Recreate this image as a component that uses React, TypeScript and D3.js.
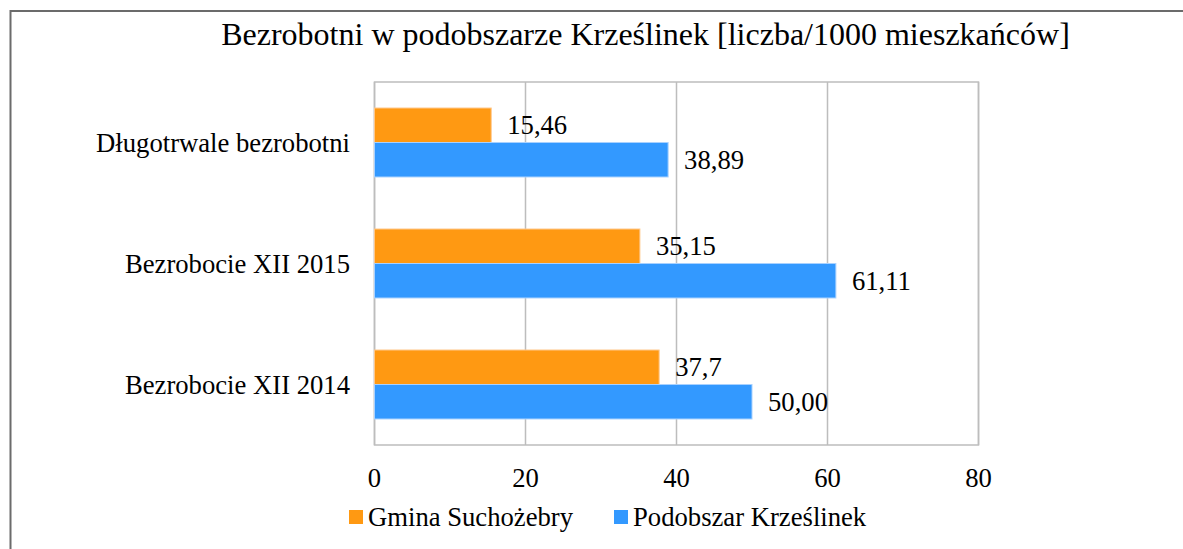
import React from "react";
import * as d3 from "d3";

const categories = ["Długotrwale bezrobotni", "Bezrobocie XII 2015", "Bezrobocie XII 2014"];
const seriesNames = ["Gmina Suchożebry", "Podobszar Krześlinek"];
const gminaValues = [15.46, 35.15, 37.7];
const podobszarValues = [38.89, 61.11, 50.0];
const gminaLabels = ["15,46", "35,15", "37,7"];
const podobszarLabels = ["38,89", "61,11", "50,00"];
const xTicks = [0, 20, 40, 60, 80];
const title = "Bezrobotni w podobszarze Krześlinek [liczba/1000 mieszkańców]";

const W = 1183;
const H = 549;
const FONT = "'Liberation Serif', 'Times New Roman', serif";
const FS = 26.67;
const colors = ["#FF9912", "#3399FF"];
const strokes = ["#FFC78A", "#A8D1FF"];

export default function App() {
  const plot = { left: 374.5, right: 978.5, top: 82, bottom: 445 };
  const x = d3.scaleLinear().domain([0, 80]).range([plot.left, plot.right]);
  const y = d3
    .scaleBand<string>()
    .domain(categories)
    .range([plot.top, plot.bottom])
    .paddingInner(0.43)
    .paddingOuter(0.215);
  const ys = d3.scaleBand<string>().domain(seriesNames).range([0, y.bandwidth()]);
  const values = [gminaValues, podobszarValues];
  const labels = [gminaLabels, podobszarLabels];
  const ts = { fontFamily: FONT };

  return (
    <svg
      width={W}
      height={H}
      style={{ position: "absolute", left: 0, top: 0, background: "#fff", fontFamily: FONT }}
    >
      <rect x={0} y={0} width={W} height={H} fill="#fff" />
      <rect x={10.5} y={11} width={1300} height={700} fill="none" stroke="#6b6b6b" strokeWidth={2} />
      <text x={645.5} y={45} textAnchor="middle" fontSize={32} fill="#000" style={ts}>
        {title}
      </text>
      {xTicks.map((t) => (
        <line key={t} x1={x(t)} x2={x(t)} y1={plot.top} y2={plot.bottom} stroke="#BDBDBD" strokeWidth={1.5} />
      ))}
      <rect
        x={plot.left}
        y={plot.top}
        width={plot.right - plot.left}
        height={plot.bottom - plot.top}
        fill="none"
        stroke="#BDBDBD"
        strokeWidth={1.5}
      />
      {categories.map((c, i) =>
        seriesNames.map((s, j) => {
          const v = values[j][i];
          const by = (y(c) as number) + (ys(s) as number);
          return (
            <rect
              key={c + s}
              x={x(0)}
              y={by}
              width={x(v) - x(0)}
              height={ys.bandwidth()}
              fill={colors[j]}
              stroke={strokes[j]}
              strokeWidth={1}
            />
          );
        })
      )}
      {categories.map((c, i) =>
        seriesNames.map((s, j) => {
          const v = values[j][i];
          const by = (y(c) as number) + (ys(s) as number) + ys.bandwidth() / 2;
          return (
            <text key={"l" + c + s} x={x(v) + 16} y={by + 9} fontSize={FS} fill="#000" style={ts}>
              {labels[j][i]}
            </text>
          );
        })
      )}
      {categories.map((c) => (
        <text
          key={"c" + c}
          x={350}
          y={(y(c) as number) + y.bandwidth() / 2 + 9.5}
          textAnchor="end"
          fontSize={FS}
          fill="#000"
          style={ts}
        >
          {c}
        </text>
      ))}
      {xTicks.map((t) => (
        <text key={"t" + t} x={x(t)} y={487} textAnchor="middle" fontSize={FS} fill="#000" style={ts}>
          {t}
        </text>
      ))}
      {[
        { x: 349, name: seriesNames[0], color: colors[0] },
        { x: 614, name: seriesNames[1], color: colors[1] },
      ].map((l) => (
        <g key={l.name}>
          <rect x={l.x} y={510} width={14} height={14} fill={l.color} />
          <text x={l.x + 19} y={526} fontSize={FS} fill="#000" style={ts}>
            {l.name}
          </text>
        </g>
      ))}
    </svg>
  );
}
